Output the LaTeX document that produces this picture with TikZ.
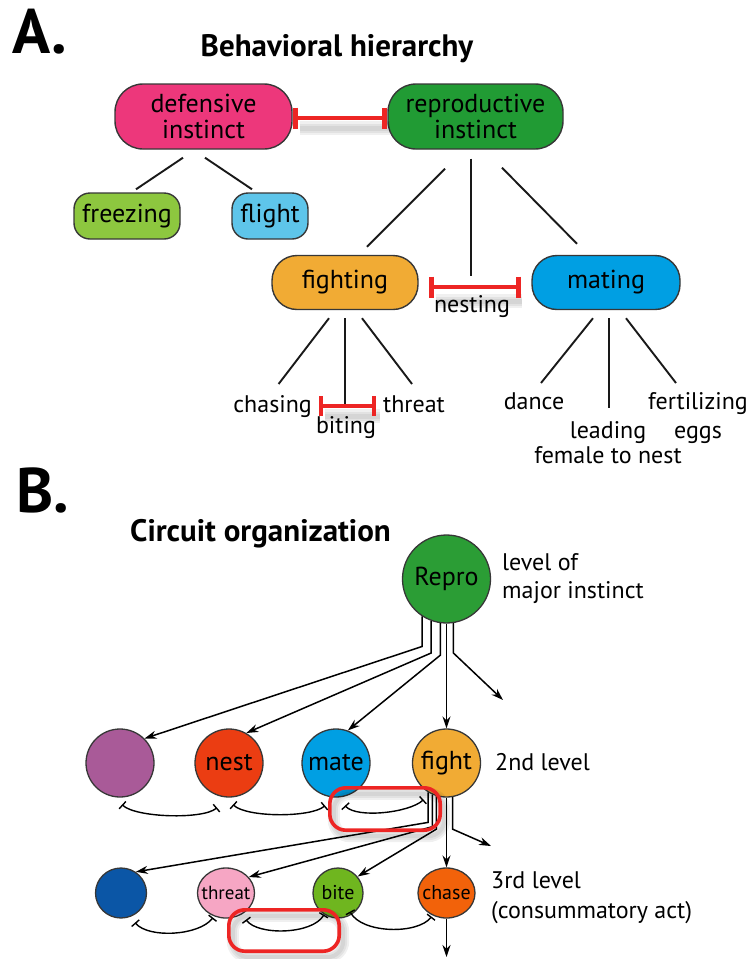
\documentclass[tikz,border=0pt]{standalone}
\usepackage{fontspec}
\setmainfont{PT Sans}
\usetikzlibrary{arrows.meta,calc,shapes.geometric}
\definecolor{cBd}{RGB}{55,55,55}
\definecolor{cDef}{RGB}{237,55,123}
\definecolor{cRep}{RGB}{33,155,52}
\definecolor{cFreez}{RGB}{141,199,63}
\definecolor{cFlight}{RGB}{94,197,234}
\definecolor{cFight}{RGB}{241,171,52}
\definecolor{cMate}{RGB}{0,159,227}
\definecolor{cRepro}{RGB}{43,157,53}
\definecolor{cPurple}{RGB}{169,90,152}
\definecolor{cNest}{RGB}{235,61,18}
\definecolor{cBlue}{RGB}{11,86,166}
\definecolor{cThreat}{RGB}{246,166,196}
\definecolor{cBite}{RGB}{111,182,31}
\definecolor{cChase}{RGB}{242,98,10}
\definecolor{cRed}{RGB}{237,37,36}
\begin{document}
\begin{tikzpicture}[x=1pt,y=-1pt,
  bx/.style={draw=cBd, line width=1.4pt, inner sep=0pt, align=center, font=\fontsize{26}{26}\selectfont},
  tree/.style={line width=1.9pt, draw=black!90},
  redln/.style={draw=cRed, line width=4.6pt},
  shad/.style={draw=black, opacity=0.06, line width=#1},
  lbl/.style={inner sep=0pt, font=\fontsize{24}{29}\selectfont},
  nd/.style={circle, draw=cBd, line width=1.3pt, inner sep=0pt, font=\fontsize{26}{26}\selectfont},
  el/.style={ellipse, draw=cBd, line width=1.3pt, inner sep=0pt, font=\fontsize{20}{20}\selectfont},
  arr/.style={line width=1.5pt, -{Stealth[length=12pt,width=8pt]}},
  inh/.style={line width=1.4pt, {Bar[width=10pt,line width=1.4pt]}-{Bar[width=10pt,line width=1.4pt]}},
  redbox/.style={draw=cRed, line width=3.6pt, rounded corners=16pt, inner sep=0pt},
  ttl/.style={inner sep=0pt, font=\bfseries\fontsize{31}{31}\selectfont},
  big/.style={inner sep=0pt, font=\bfseries\fontsize{63}{63}\selectfont}
]
\useasboundingbox (0,0) rectangle (751,959);

% ---------- Part A ----------
\node[big, anchor=base west] (labA) at (12,53) {A.};
\node[ttl, anchor=base] (titA) at (337,56) {Behavioral hierarchy};

\node[bx, rounded corners=28pt, fill=cDef, minimum width=177pt, minimum height=65pt] (def) at (203.5,116.5) {defensive\\instinct};
\node[bx, rounded corners=28pt, fill=cRep, minimum width=175pt, minimum height=65pt] (rep) at (475.5,116.5) {reproductive\\instinct};
\node[bx, rounded corners=16pt, fill=cFreez, minimum width=106pt, minimum height=46pt] (freez) at (127,216) {freezing};
\node[bx, rounded corners=16pt, fill=cFlight, minimum width=76pt, minimum height=46pt] (flight) at (270,216) {flight};
\node[bx, rounded corners=25pt, fill=cFight, minimum width=146pt, minimum height=54pt] (fighting) at (345,282.5) {fighting};
\node[bx, rounded corners=25pt, fill=cMate, minimum width=148pt, minimum height=54pt] (mating) at (606,282.5) {mating};

\node[lbl, anchor=base] (nesting) at (472,312) {nesting};
\node[lbl, anchor=base east] (chasing) at (312,412) {chasing};
\node[lbl, anchor=base] (biting) at (346,433) {biting};
\node[lbl, anchor=base west] (threatA) at (383,412) {threat};
\node[lbl, anchor=base] (dance) at (534,409) {dance};
\node[lbl, anchor=base] (leading) at (608,438) {\fontsize{24}{25}\selectfont\begin{tabular}[t]{@{}c@{}}leading\\female to nest\end{tabular}};
\node[lbl, anchor=base] (fert) at (698,409) {\begin{tabular}[t]{@{}c@{}}fertilizing\\eggs\end{tabular}};

\draw[tree] ($(def.south)+(-20.5,8)$) -- ($(freez.north)+(9,-3)$);
\draw[tree] ($(def.south)+(1.5,8)$) -- ($(flight.north)+(-18,-3)$);
\draw[tree] ($(rep.south)+(-30.5,19)$) -- ($(fighting.north)+(22,-8)$);
\draw[tree] ($(rep.south)+(-4.5,9)$) -- ($(rep.south)+(-4.5,126)$);
\draw[tree] ($(rep.south)+(26.5,18)$) -- ($(mating.north)+(-29,-11)$);
\draw[tree] ($(fighting.south)+(-16,8)$) -- ($(chasing.base)+(6,-28)$);
\draw[tree] ($(fighting.south)+(0,8)$) -- ($(biting.base)+(-1,-26)$);
\draw[tree] ($(fighting.south)+(17,8)$) -- ($(threatA.base)+(-2,-28)$);
\draw[tree] ($(mating.south)+(-13,8)$) -- ($(dance.base)+(7,-26)$);
\draw[tree] ($(mating.south)+(3,8)$) -- ($(leading.base)+(1,-30)$);
\draw[tree] ($(mating.south)+(20,8)$) -- ($(fert.base)+(-22,-26)$);

% red inhibitions (end points named from the nodes)
\coordinate (i1a) at ($(def.east)+(3,1.5)$);
\coordinate (i1b) at ($(rep.west)+(-3,1.5)$);
\coordinate (i2a) at ($(fighting.east)+(13,4.5)$);
\coordinate (i2b) at ($(mating.west)+(-13,4.5)$);
\coordinate (i3a) at ($(chasing.base east)+(9,-6)$);
\coordinate (i3b) at ($(threatA.base west)+(-9,-6)$);
\foreach \w in {14,9,5} {
  \draw[shad=\w pt] ($(i1a)+(4,10)$) -- ($(i1b)+(6,10)$);
  \draw[shad=\w pt] ($(i2a)+(4,14)$) -- ($(i2b)+(4,14)$);
  \draw[shad=\w pt] ($(i3a)+(4,10)$) -- ($(i3b)+(6,10)$);
}
\draw[redln] (i1a) -- (i1b);
\draw[redln] ($(i1a)+(0,-10.5)$) -- ($(i1a)+(0,10.5)$);
\draw[redln] ($(i1b)+(0,-10.5)$) -- ($(i1b)+(0,10.5)$);
\draw[redln] (i2a) -- (i2b);
\draw[redln] ($(i2a)+(0,-10.5)$) -- ($(i2a)+(0,10.5)$);
\draw[redln] ($(i2b)+(0,-10.5)$) -- ($(i2b)+(0,10.5)$);
\draw[redln, line width=4.2pt] (i3a) -- (i3b);
\draw[redln, line width=4.2pt] ($(i3a)+(0,-10)$) -- ($(i3a)+(0,10)$);
\draw[redln, line width=4.2pt] ($(i3b)+(0,-10)$) -- ($(i3b)+(0,10)$);

% ---------- Part B ----------
\node[big, anchor=base west] (labB) at (16,512) {B.};
\node[ttl, anchor=base west] (titB) at (130,541) {Circuit organization};

\node[nd, fill=cRepro, minimum size=88pt] (repro) at (446.5,579) {Repro};
\node[lbl, anchor=base west] (lvl1) at (502,570) {\fontsize{24}{28}\selectfont\begin{tabular}[t]{@{}l@{}}level of\\major instinct\end{tabular}};

\node[nd, fill=cPurple, minimum size=68pt] (purple) at (120,763) {};
\node[nd, fill=cNest, minimum size=68pt] (nest) at (229,763) {nest};
\node[nd, fill=cMate, minimum size=68pt] (mate) at (336,763) {mate};
\node[nd, fill=cFight, minimum size=68pt] (fight) at (446.5,763) {fight};
\node[lbl, anchor=base west] (lvl2) at (495,770) {2nd level};

\node[el, fill=cBlue, minimum width=51pt, minimum height=50pt] (blue) at (121,893) {};
\node[el, fill=cThreat, minimum width=57pt, minimum height=50pt, font=\fontsize{19}{19}\selectfont] (thr3) at (226,893) {\makebox[0pt]{threat}};
\node[el, fill=cBite, minimum width=50pt, minimum height=50pt] (bite) at (338,893) {\makebox[0pt]{bite}};
\node[el, fill=cChase, minimum width=57pt, minimum height=50pt] (chase) at (446.5,893) {\makebox[0pt]{chase}};
\node[lbl, anchor=base west] (lvl3) at (491,888) {\fontsize{24}{30}\selectfont\begin{tabular}[t]{@{}l@{}}3rd level\\(consummatory act)\end{tabular}};

\coordinate (free1) at (503,700);
\coordinate (free2) at (491,846);
\coordinate (free3) at (446.5,957);

\draw[arr] (repro.-123) -- ++(0,30) -- (purple.45);
\draw[arr] (repro.-110) -- ++(0,32) -- (nest.60);
\draw[arr] (repro.-98) -- ++(0,32) -- (mate.70);
\draw[arr] (repro.south) -- (fight.north);
\draw[arr] (repro.-81) -- ++(0,30) -- (free1);

\draw[arr] (fight.-122) -- ++(0,30) -- (blue.55);
\draw[arr] (fight.-114) -- ++(0,32) -- (thr3.35);
\draw[arr] (fight.-107) -- ++(0,33) -- (bite.40);
\draw[arr] (fight.south) -- (chase.north);
\draw[arr] (fight.-80) -- ++(0,32) -- (free2);
\draw[arr] (chase.south) -- (free3);

\draw[inh] ($(purple.south)+(2,7)$) .. controls +(14,13) and +(-14,12) .. ($(nest.south)+(-12,10)$);
\draw[inh] ($(nest.south)+(4,7)$) .. controls +(14,13) and +(-14,12) .. ($(mate.south)+(-11,8)$);
\draw[inh] ($(mate.south)+(9,8)$) .. controls +(12,13) and +(-14,13) .. ($(fight.south)+(-23,2)$);
\draw[inh] ($(blue.south)+(14,4)$) .. controls +(14,16) and +(-14,18) .. ($(thr3.south)+(-13,-1)$);
\draw[inh] ($(thr3.south)+(20,1)$) .. controls +(12,16) and +(-12,20) .. ($(bite.south)+(-14,-4)$);
\draw[inh] ($(bite.south)+(12,-7)$) .. controls +(12,22) and +(-14,18) .. ($(chase.south)+(-15,-2)$);

\node[minimum width=110pt, minimum height=42pt, inner sep=0pt] (rb1) at (385,809) {};
\node[minimum width=110pt, minimum height=41pt, inner sep=0pt] (rb2) at (284,930.5) {};
\foreach \w in {12,8,4} {
  \draw[shad=\w pt, rounded corners=16pt] ($(rb1.south west)+(4,6)$) rectangle ($(rb1.north east)+(4,6)$);
  \draw[shad=\w pt, rounded corners=16pt] ($(rb2.south west)+(4,6)$) rectangle ($(rb2.north east)+(4,6)$);
}
\draw[redbox] (rb1.south west) rectangle (rb1.north east);
\draw[redbox] (rb2.south west) rectangle (rb2.north east);
\end{tikzpicture}
\end{document}
